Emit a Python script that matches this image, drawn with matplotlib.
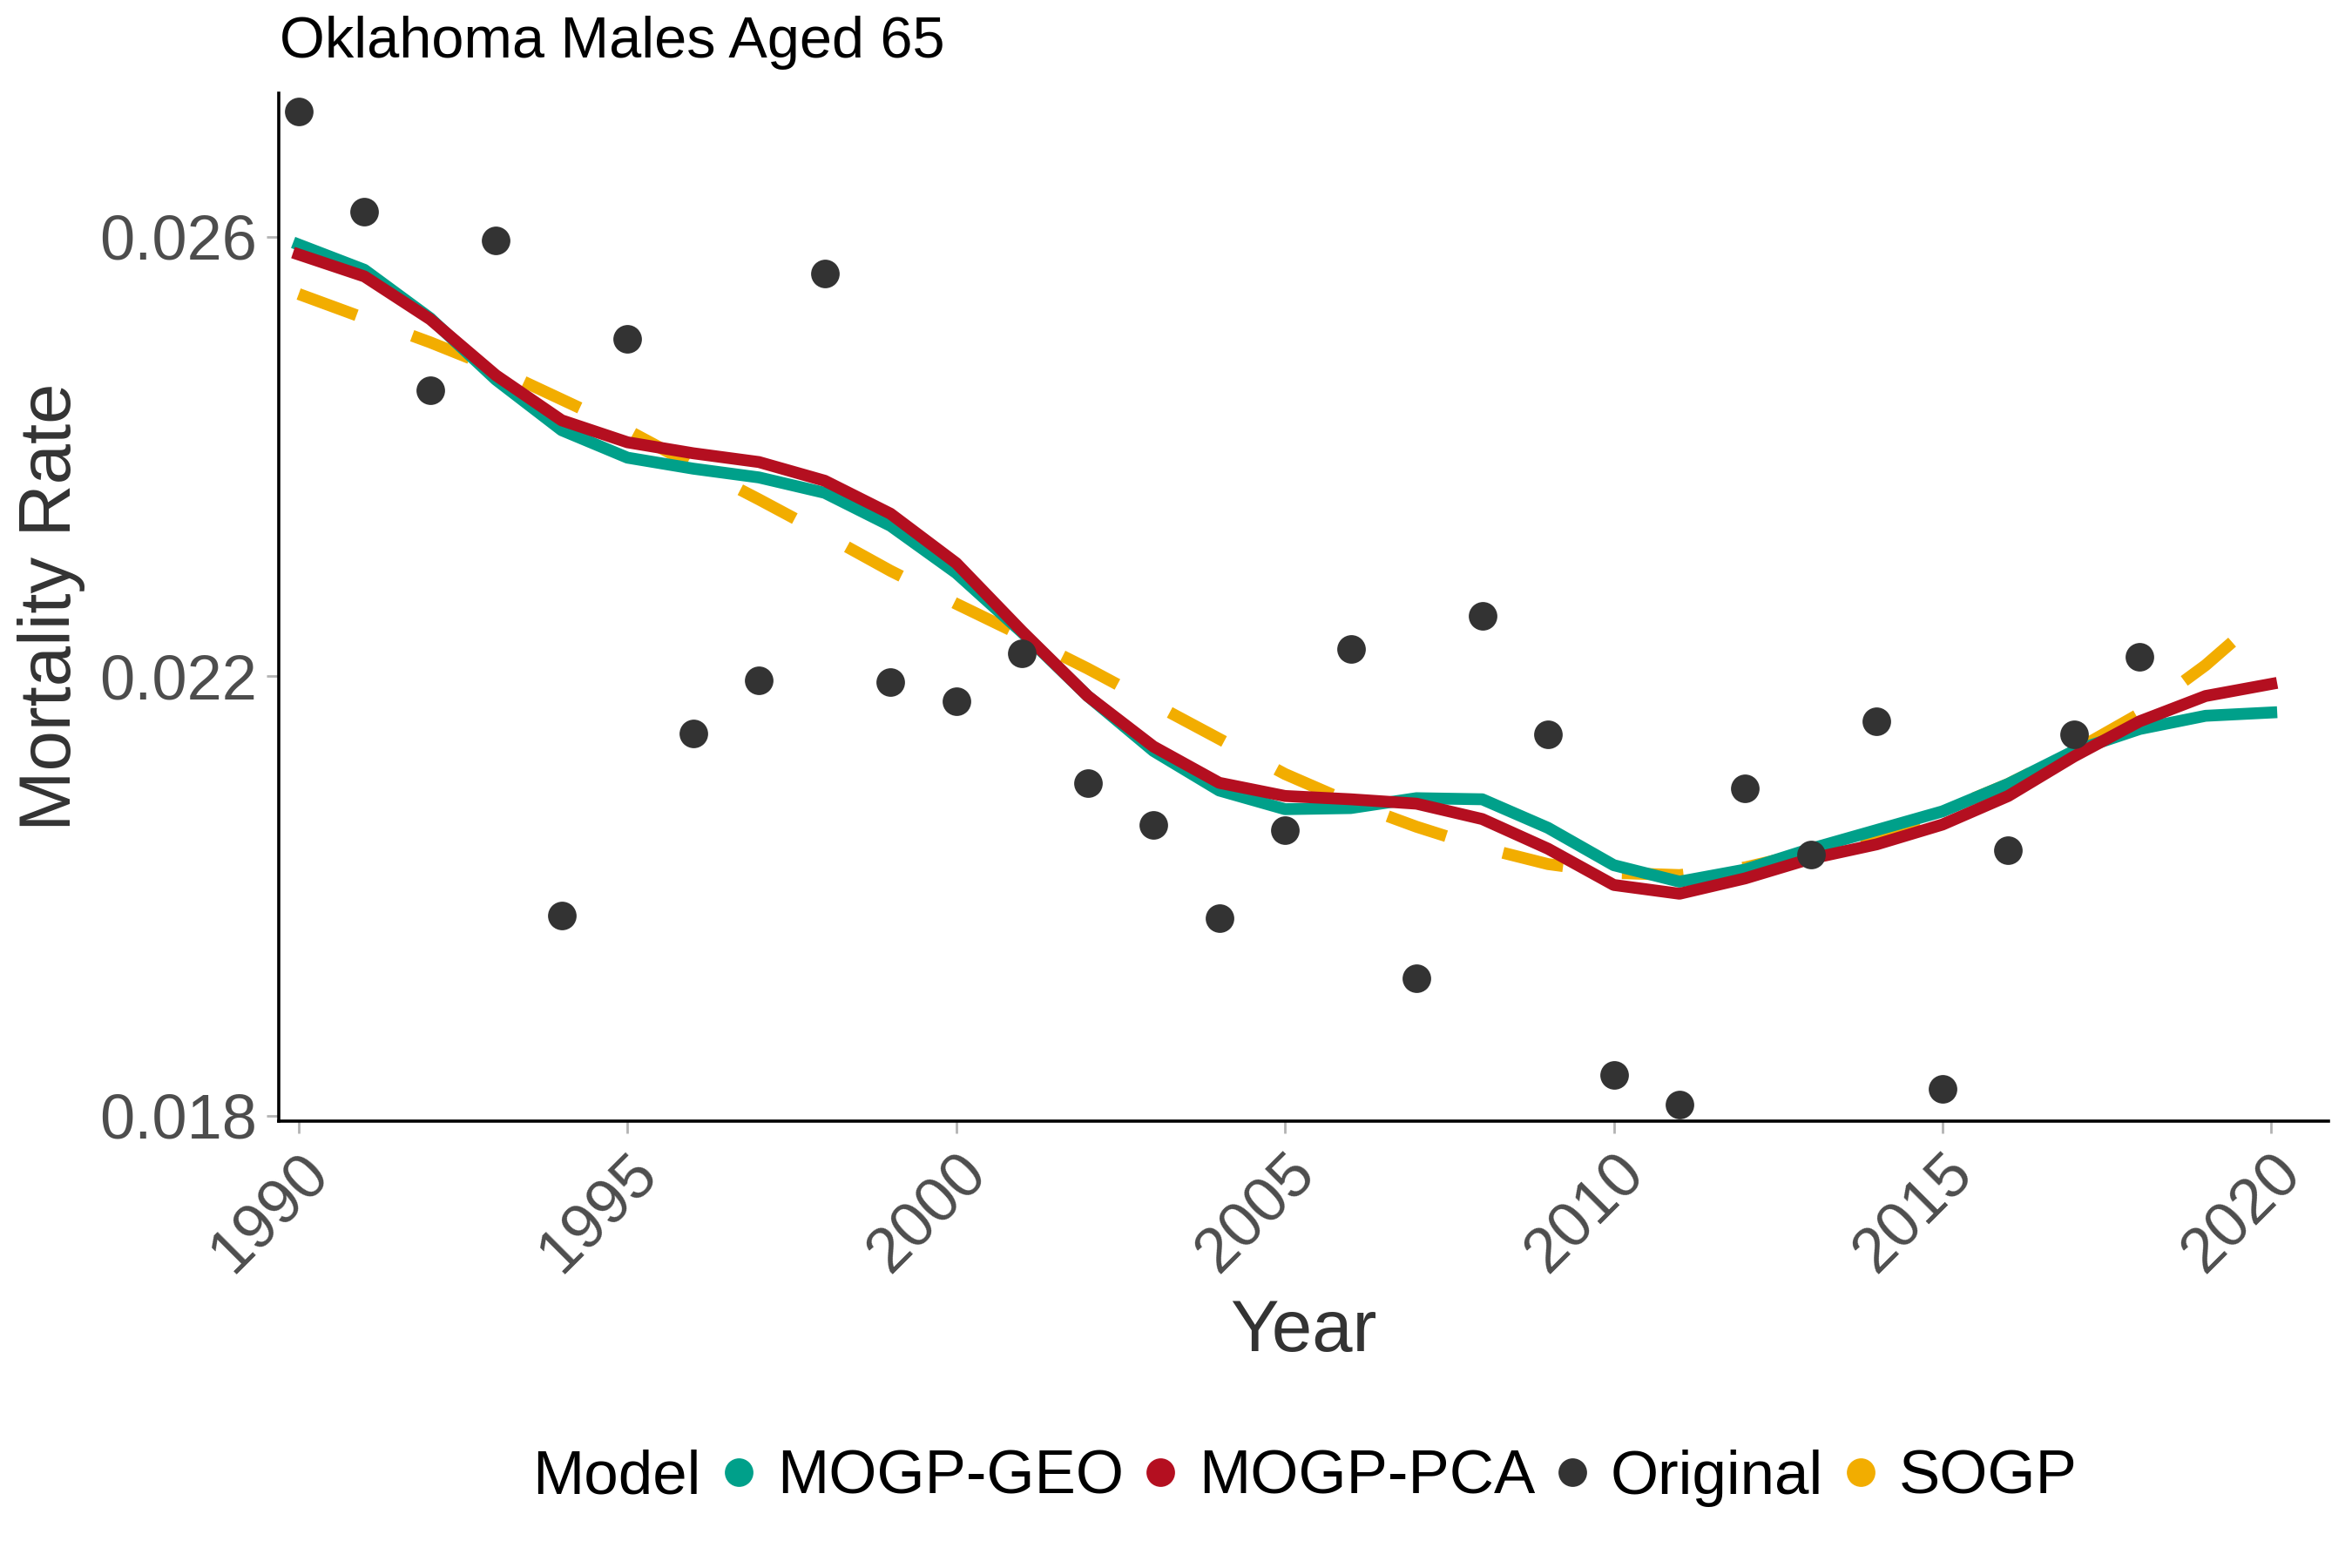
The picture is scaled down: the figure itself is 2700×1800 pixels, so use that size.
import matplotlib
matplotlib.use("Agg")
import matplotlib.pyplot as plt
from matplotlib.lines import Line2D

plt.rcParams['font.family'] = ['Liberation Sans', 'DejaVu Sans']

years = list(range(1990, 2021))
orig_years = list(range(1990, 2019))
original = [0.02714, 0.02623, 0.02460, 0.02597, 0.01982, 0.02507, 0.02148, 0.02196,
            0.02567, 0.02195, 0.02177, 0.02221, 0.02103, 0.02065, 0.01980, 0.02060,
            0.02225, 0.01925, 0.02255, 0.02147, 0.01837, 0.01810, 0.02098, 0.02038,
            0.02159, 0.01824, 0.02042, 0.02147, 0.02218]
mogp_geo = [0.02593, 0.02570, 0.02526, 0.02470, 0.02424, 0.02399, 0.02389, 0.02381,
            0.02367, 0.02337, 0.02294, 0.02240, 0.02182, 0.02132, 0.02096, 0.02079,
            0.02080, 0.02089, 0.02088, 0.02062, 0.02028, 0.02013, 0.02024, 0.02043,
            0.02060, 0.02077, 0.02102, 0.02132, 0.02152, 0.02164, 0.02167]
mogp_pca = [0.02584, 0.02564, 0.02525, 0.02474, 0.02433, 0.02413, 0.02403, 0.02395,
            0.02378, 0.02348, 0.02303, 0.02241, 0.02182, 0.02136, 0.02103, 0.02091,
            0.02088, 0.02084, 0.02070, 0.02043, 0.02010, 0.02002, 0.02016, 0.02034,
            0.02047, 0.02065, 0.02091, 0.02127, 0.02159, 0.02182, 0.02193]
sogp = [0.02548, 0.02526, 0.02504, 0.02480, 0.02452, 0.02424, 0.02392, 0.02361,
        0.02329, 0.02296, 0.02266, 0.02237, 0.02207, 0.02175, 0.02143, 0.02111,
        0.02085, 0.02063, 0.02044, 0.02029, 0.02021, 0.02019, 0.02026, 0.02040,
        0.02056, 0.02077, 0.02102, 0.02132, 0.02166, 0.02210, 0.02262]

x_ticks = [1990, 1995, 2000, 2005, 2010, 2015, 2020]
y_ticks = [0.018, 0.022, 0.026]
y_labels = ["0.018", "0.022", "0.026"]

c_geo = "#00A08A"
c_pca = "#B40F20"
c_sogp = "#F2AD00"
c_orig = "#333333"

fig = plt.figure(figsize=(13.5, 9), dpi=200)
ax = fig.add_axes([0.1186, 0.285, 0.990 - 0.1186, 0.9407 - 0.285])

lw = 4.9
ax.plot(years, sogp, color=c_sogp, lw=lw, dashes=(5.2, 5.0), solid_capstyle='butt',
        dash_capstyle='butt', zorder=2)
ax.plot(years, mogp_geo, color=c_geo, lw=lw, zorder=3)
ax.plot(years, mogp_pca, color=c_pca, lw=lw, zorder=4)
ax.plot(orig_years, original, linestyle='none', marker='o', markersize=11.8,
        color=c_orig, markeredgewidth=0, zorder=5)

ax.set_xlim(1989.70, 2020.87)
ax.set_ylim(0.01795, 0.02731)
ax.set_xticks(x_ticks)
ax.set_xticklabels([str(t) for t in x_ticks], rotation=45, ha='right', va='top',
                   rotation_mode='anchor')
ax.set_yticks(y_ticks)
ax.set_yticklabels(y_labels)
ax.tick_params(axis='both', length=5, width=1.0, color='#B3B3B3', labelsize=26,
               labelcolor='#4D4D4D', pad=4)

for s in ['top', 'right']:
    ax.spines[s].set_visible(False)
for s in ['left', 'bottom']:
    ax.spines[s].set_linewidth(1.3)
    ax.spines[s].set_color('black')

ax.set_xlabel("Year", fontsize=30, color='#333333', labelpad=6)
ax.set_ylabel("Mortality Rate", fontsize=30, color='#333333', labelpad=6)

fig.text(0.119, 0.973, "Oklahoma Males Aged 65", fontsize=24, color='black',
         ha='left', va='center')

# legend
fig.text(355 / 1568, 1 - 985 / 1045, "Model", fontsize=25.5, color='black',
         ha='left', va='center')
handles = [Line2D([], [], linestyle='none', marker='o', markersize=11.8,
                  markeredgewidth=0, color=c) for c in [c_geo, c_pca, c_orig, c_sogp]]
labels = ["MOGP-GEO", "MOGP-PCA", "Original", "SOGP"]
fig.legend(handles, labels, loc='center left', bbox_to_anchor=(476 / 1568, 1 - 985 / 1045),
           ncol=4, frameon=False, fontsize=25.5, handlelength=0.8, handletextpad=0.22,
           columnspacing=0.2, borderaxespad=0, borderpad=0)

fig.savefig("out.png", dpi=200)
